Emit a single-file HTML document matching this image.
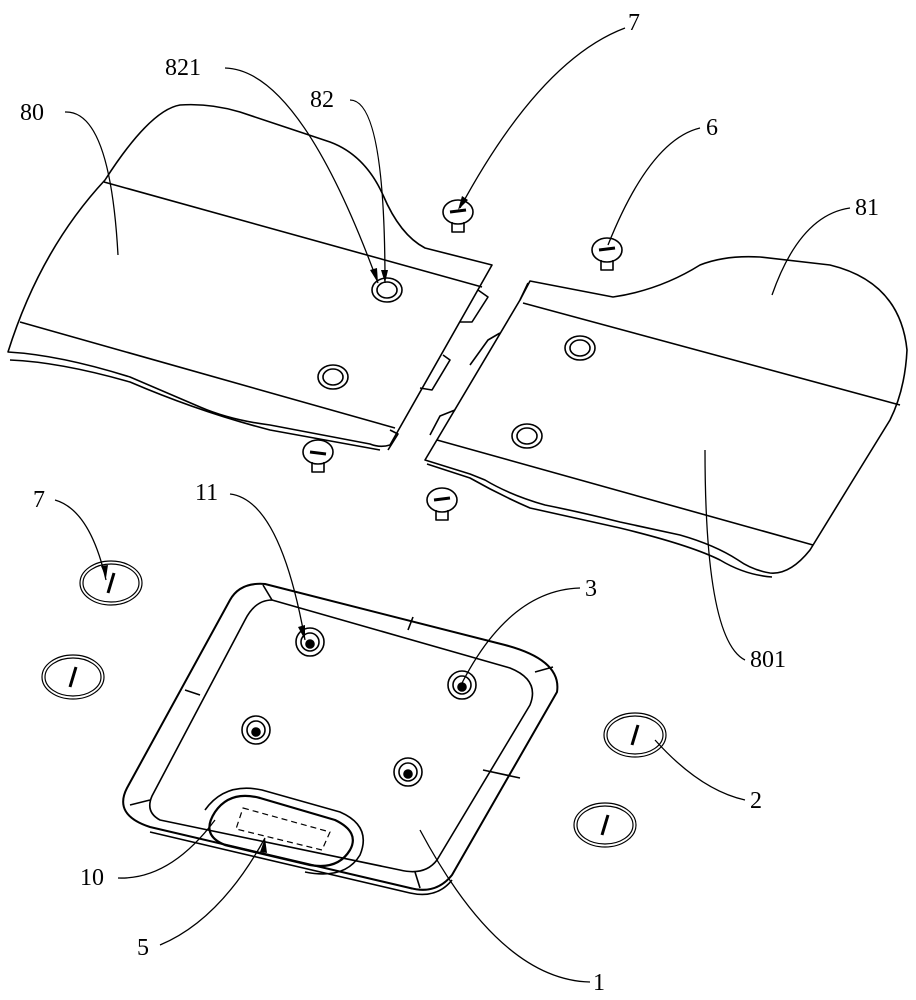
<!DOCTYPE html>
<html><head><meta charset="utf-8"><style>
html,body{margin:0;padding:0;background:#fff;}
svg{display:block}
text{font-family:"Liberation Serif",serif;font-size:24px;fill:#000}
</style></head><body>
<svg width="916" height="1000" viewBox="0 0 916 1000" xmlns="http://www.w3.org/2000/svg">
<g fill="none" stroke="#000" stroke-width="1.6" stroke-linejoin="round">
<!-- left plate 80 -->
<path d="M8,352 Q40,250 105,180 Q150,110 180,105 Q210,103 240,112 L330,142 Q365,155 383,195 Q400,235 425,248 L492,265 L390,445 Q380,448 370,444 L270,425 Q230,420 200,407 Q160,390 130,377 Q60,355 8,352 Z"/>
<path d="M10,360 Q60,362 130,382 Q200,412 270,430 L380,450"/>
<path d="M104,182 L482,287"/>
<path d="M20,322 L395,428"/>
<path d="M478,290 L488,297 L472,322 L460,322"/><path d="M443,355 L450,360 L432,390 L420,388"/><path d="M390,430 L398,434 L388,450"/>
<!-- right plate 81 -->
<path d="M530,281 L613,297 Q660,290 700,265 Q725,255 760,257 L830,265 Q900,282 907,350 Q905,390 890,420 L853,480 L810,550 Q790,575 770,573 Q752,570 738,560 Q715,545 680,535 L620,522 Q580,512 545,505 Q510,495 485,480 L470,474 L425,460 L520,300 Z"/>
<path d="M427,464 L470,478 Q500,495 530,508 L620,528 Q690,545 720,560 Q745,575 772,577"/>
<path d="M523,303 L900,405"/>
<path d="M437,440 L813,545"/>
<path d="M500,333 L488,340 L470,365"/><path d="M455,410 L440,416 L430,435"/><path d="M528,283 L520,300"/>
<!-- holes on plates -->
<ellipse cx="387" cy="290" rx="15" ry="12"/><ellipse cx="387" cy="290" rx="10" ry="8"/>
<ellipse cx="333" cy="377" rx="15" ry="12"/><ellipse cx="333" cy="377" rx="10" ry="8"/>
<ellipse cx="580" cy="348" rx="15" ry="12"/><ellipse cx="580" cy="348" rx="10" ry="8"/>
<ellipse cx="527" cy="436" rx="15" ry="12"/><ellipse cx="527" cy="436" rx="10" ry="8"/>
<!-- screws -->
<g><ellipse cx="458" cy="212" rx="15" ry="12"/><path d="M452,222 L452,232 L464,232 L464,222"/><path d="M450,212 L466,210" stroke-width="3"/></g>
<g><ellipse cx="607" cy="250" rx="15" ry="12"/><path d="M601,260 L601,270 L613,270 L613,260"/><path d="M599,250 L615,248" stroke-width="3"/></g>
<g><ellipse cx="318" cy="452" rx="15" ry="12"/><path d="M312,462 L312,472 L324,472 L324,462"/><path d="M310,452 L326,454" stroke-width="3"/></g>
<g><ellipse cx="442" cy="500" rx="15" ry="12"/><path d="M436,510 L436,520 L448,520 L448,510"/><path d="M434,500 L450,498" stroke-width="3"/></g>
<!-- discs -->
<g stroke-width="1.2"><ellipse cx="111" cy="583" rx="31" ry="22"/><ellipse cx="111" cy="583" rx="28" ry="19"/><path d="M108,593 L114,573" stroke-width="3"/></g>
<g stroke-width="1.2"><ellipse cx="73" cy="677" rx="31" ry="22"/><ellipse cx="73" cy="677" rx="28" ry="19"/><path d="M70,687 L76,667" stroke-width="3"/></g>
<g stroke-width="1.2"><ellipse cx="635" cy="735" rx="31" ry="22"/><ellipse cx="635" cy="735" rx="28" ry="19"/><path d="M632,745 L638,725" stroke-width="3"/></g>
<g stroke-width="1.2"><ellipse cx="605" cy="825" rx="31" ry="22"/><ellipse cx="605" cy="825" rx="28" ry="19"/><path d="M602,835 L608,815" stroke-width="3"/></g>
<!-- base plate 1 -->
<path d="M265,584 L505,645 Q562,660 557,692 L452,875 Q436,895 410,888 L150,827 Q113,815 127,788 L230,600 Q240,582 265,584 Z" stroke-width="2"/>
<path d="M150,832 L410,893 Q437,899 452,880"/>
<path d="M272,600 L510,668 Q540,680 530,705 L437,860 Q425,876 400,870 L160,820 Q145,812 152,796 L245,620 Q255,600 272,600 Z"/>
<path d="M263,585 L272,600"/><path d="M413,617 L408,630"/><path d="M535,672 L553,667"/><path d="M520,778 L483,770"/><path d="M415,872 L420,888"/><path d="M185,690 L200,695"/><path d="M130,805 L150,800"/>
<path d="M215,812 Q230,790 260,798 L335,820 Q360,832 350,850 Q338,870 310,865 L225,845 Q200,835 215,812 Z" stroke-width="2.2"/>
<path d="M205,810 Q225,782 262,790 L340,812 Q372,826 360,855 Q345,880 305,872"/>
<path d="M243,808 L330,832 L322,850 L236,829 Z" stroke-dasharray="6,4" stroke-width="1.2"/>
<g><circle cx="310" cy="642" r="14"/><circle cx="310" cy="642" r="9"/><circle cx="310" cy="644" r="4" fill="#000"/></g>
<g><circle cx="462" cy="685" r="14"/><circle cx="462" cy="685" r="9"/><circle cx="462" cy="687" r="4" fill="#000"/></g>
<g><circle cx="256" cy="730" r="14"/><circle cx="256" cy="730" r="9"/><circle cx="256" cy="732" r="4" fill="#000"/></g>
<g><circle cx="408" cy="772" r="14"/><circle cx="408" cy="772" r="9"/><circle cx="408" cy="774" r="4" fill="#000"/></g>
<!-- leader lines -->
<g stroke-width="1.3">
<path d="M65,112 Q110,110 118,255"/>
<path d="M225,68 Q300,70 378,283"/>
<path d="M350,100 Q385,100 385,283"/>
<path d="M625,28 Q540,60 460,208"/>
<path d="M700,128 Q650,140 608,245"/>
<path d="M850,208 Q800,215 772,295"/>
<path d="M745,660 Q705,640 705,450"/>
<path d="M55,500 Q90,510 106,580"/>
<path d="M230,494 Q280,500 305,640"/>
<path d="M580,588 Q510,590 462,683"/>
<path d="M745,800 Q700,790 655,740"/>
<path d="M118,878 Q170,880 215,820"/>
<path d="M160,945 Q220,920 265,838"/>
<path d="M590,982 Q500,980 420,830"/>
</g>
</g>
<g fill="#000">
<polygon points="378,283 370,270 377,268"/><polygon points="385,283 381,270 388,270"/>
<polygon points="458,210 462,196 468,200"/><polygon points="305,640 298,627 305,625"/>
<polygon points="265,838 260,852 267,853"/><polygon points="106,578 101,566 108,565"/>
</g>
<text x="20" y="120">80</text>
<text x="165" y="75">821</text>
<text x="310" y="107">82</text>
<text x="628" y="30">7</text>
<text x="706" y="135">6</text>
<text x="855" y="215">81</text>
<text x="750" y="667">801</text>
<text x="33" y="507">7</text>
<text x="195" y="500">11</text>
<text x="585" y="596">3</text>
<text x="750" y="808">2</text>
<text x="80" y="885">10</text>
<text x="137" y="955">5</text>
<text x="593" y="990">1</text>
</svg>
</body></html>
